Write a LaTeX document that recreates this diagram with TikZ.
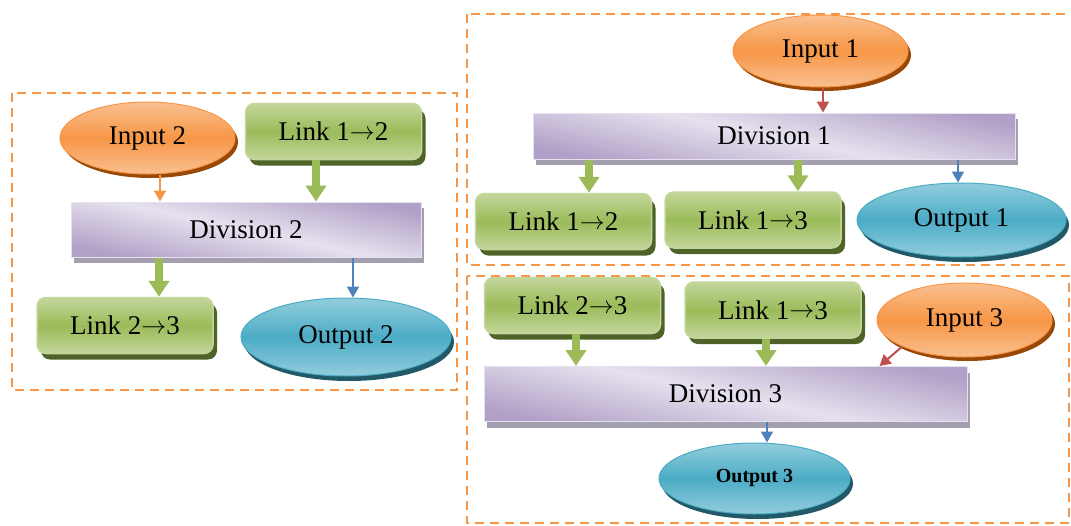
\documentclass[tikz,border=0pt]{standalone}
\usepackage{fontspec}
\setmainfont{Liberation Serif}
\usetikzlibrary{arrows.meta,shapes.geometric,shadows}

\definecolor{boxorange}{HTML}{F79646}
\definecolor{inlight}{HTML}{FAC090}
\definecolor{inmid}{HTML}{F79646}
\definecolor{indark}{HTML}{984807}
\definecolor{lklight}{HTML}{C3D69B}
\definecolor{lkmid}{HTML}{9BBB59}
\definecolor{lkdark}{HTML}{4F6228}
\definecolor{outlight}{HTML}{93CDDD}
\definecolor{outmid}{HTML}{4BACC6}
\definecolor{outdark}{HTML}{215968}
\definecolor{divlight}{HTML}{E6E1EE}
\definecolor{divdark}{HTML}{B1A0C7}
\definecolor{divshade}{HTML}{A39FAE}
\definecolor{redarr}{HTML}{C0504D}
\definecolor{bluearr}{HTML}{4F81BD}

\newcommand{\lnkto}{\raisebox{1.5pt}{\fontsize{26}{30}\selectfont$\rightarrow$}}

\begin{document}
\begin{tikzpicture}[x=1pt,y=-1pt,
	every node/.style={font=\fontsize{27}{31}\selectfont, inner sep=0pt},
	group/.style={draw=boxorange, line width=2pt, dash pattern=on 9pt off 6pt},
	inp/.style={ellipse, minimum width=175pt, minimum height=72pt,
		top color=inlight, bottom color=inlight, middle color=inmid, draw=inmid, line width=1pt,
		drop shadow={shadow xshift=3pt, shadow yshift=-4pt, fill=indark, opacity=1}},
	outp/.style={ellipse, minimum width=210pt, minimum height=76pt,
		top color=outlight, bottom color=outlight, middle color=outmid, draw=outmid, line width=1pt,
		drop shadow={shadow xshift=3pt, shadow yshift=-5pt, fill=outdark, opacity=1}},
	lnk/.style={rectangle, rounded corners=9pt, minimum width=176pt, minimum height=56pt,
		top color=lklight, bottom color=lklight, middle color=lkmid, draw=lklight, line width=1.5pt,
		drop shadow={shadow xshift=4pt, shadow yshift=-6pt, fill=lkdark, opacity=1}},
	divi/.style={rectangle, minimum height=55pt,
		top color=divdark, bottom color=divdark, middle color=divlight, shading angle=-12,
		draw=divlight, line width=1pt,
		drop shadow={shadow xshift=3pt, shadow yshift=-6pt, fill=divshade, opacity=1}},
	thickarr/.style={draw=lkmid, line width=8pt, -{Triangle[length=16pt,width=20pt]}},
	thinarr/.style={line width=2pt, -{Triangle[length=11pt,width=12pt]}}
	]
	\useasboundingbox (0,0) rectangle (1071,525);

	% dashed groups
	\draw [group] (12,93) rectangle (457,390);
	\draw [group] (467,14) rectangle (1085,265);
	\draw [group] (467,276) rectangle (1069,523);

	% division 2
	\node [inp] (in2) at (147.5,138) {Input 2};
	\node [lnk] (lkOneTwoA) at (333.5,131.5) {Link 1\lnkto2};
	\node [divi, minimum width=350pt] (div2) at (246,229.5) {Division 2};
	\node [lnk] (lkTwoThreeA) at (125,325.5) {Link 2\lnkto3};
	\node [outp, minimum height=78pt] (out2) at (346,337) {Output 2};

	% division 1
	\node [inp] (in1) at (820.5,51) {Input 1};
	\node [divi, minimum width=482pt, minimum height=46pt] (div1) at (774,136) {Division 1};
	\node [lnk] (lkOneTwoB) at (563.5,221.5) {Link 1\lnkto2};
	\node [lnk] (lkOneThreeB) at (753,220) {Link 1\lnkto3};
	\node [outp, minimum width=209pt, minimum height=74pt] (out1) at (961.5,220) {Output 1};

	% division 3
	\node [lnk] (lkTwoThreeC) at (572.5,305.5) {Link 2\lnkto3};
	\node [lnk] (lkOneThreeC) at (773,310) {Link 1\lnkto3};
	\node [inp, minimum height=74pt] (in3) at (964.5,320) {Input 3};
	\node [divi, minimum width=483pt] (div3) at (725.5,394) {Division 3};
	\node [outp, minimum width=191pt, minimum height=71pt, font=\bfseries\fontsize{20}{24}\selectfont] (out3) at (754.5,478.5) {Output 3};

	% arrows
	\draw [thinarr, boxorange] ([xshift=12.5pt]in2.south) -- ([xshift=12.5pt]in2.south |- div2.north);
	\draw [thickarr] ([xshift=-17.5pt]lkOneTwoA.south) -- ([xshift=-17.5pt]lkOneTwoA.south |- div2.north);
	\draw [thickarr] ([xshift=34pt]lkTwoThreeA.north |- div2.south) -- ([xshift=34pt]lkTwoThreeA.north);
	\draw [thinarr, bluearr] ([xshift=7pt]out2.north |- div2.south) -- ([xshift=7pt]out2.north);

	\draw [thinarr, redarr] ([xshift=2.5pt]in1.south) -- ([xshift=2.5pt]in1.south |- div1.north);
	\draw [thickarr] ([xshift=25.5pt]lkOneTwoB.north |- div1.south) -- ([xshift=25.5pt]lkOneTwoB.north);
	\draw [thickarr] ([xshift=45pt]lkOneThreeB.north |- div1.south) -- ([xshift=45pt]lkOneThreeB.north);
	\draw [thinarr, bluearr] ([xshift=-3.5pt]out1.north |- div1.south) -- ([xshift=-3.5pt]out1.north);

	\draw [thickarr] ([xshift=3.5pt]lkTwoThreeC.south) -- ([xshift=3.5pt]lkTwoThreeC.south |- div3.north);
	\draw [thickarr] ([xshift=-7pt]lkOneThreeC.south) -- ([xshift=-7pt]lkOneThreeC.south |- div3.north);
	\draw [thinarr, redarr] (in3.south west) -- ([xshift=-88pt]div3.north east);
	\draw [thinarr, bluearr] ([xshift=12.5pt]out3.north |- div3.south) -- ([xshift=12.5pt]out3.north);
\end{tikzpicture}
\end{document}
